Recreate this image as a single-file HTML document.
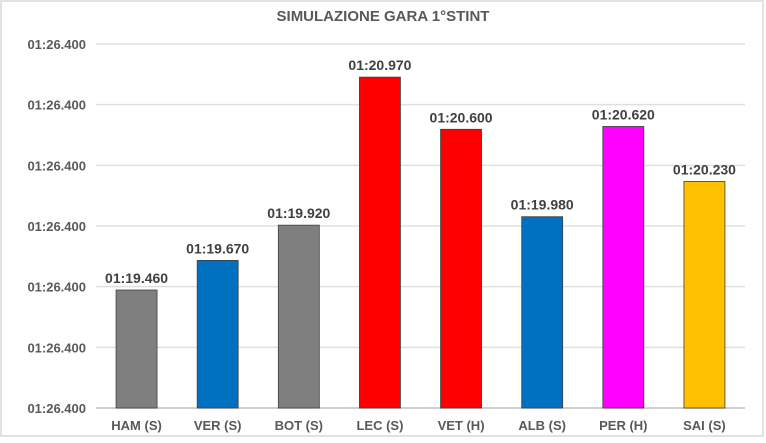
<!DOCTYPE html>
<html><head><meta charset="utf-8"><style>
body{margin:0;background:#fff;font-family:"Liberation Sans",sans-serif}
svg text{font-family:"Liberation Sans",sans-serif}
</style></head><body>
<svg id="chart" width="766" height="438" viewBox="0 0 766 438">
<rect x="1" y="1" width="762" height="435" fill="#fff" stroke="#d9d9d9" stroke-width="1.5"/>
<text x="383" y="21" text-anchor="middle" font-size="15" font-weight="bold" fill="#595959">SIMULAZIONE GARA 1°STINT</text>
<g id="grid"></g><g id="bars"></g>
</svg>
<script>
const categories=["HAM (S)","VER (S)","BOT (S)","LEC (S)","VET (H)","ALB (S)","PER (H)","SAI (S)"];
const values=[79.46,79.67,79.92,80.97,80.60,79.98,80.62,80.23];
const valueLabels=["01:19.460","01:19.670","01:19.920","01:20.970","01:20.600","01:19.980","01:20.620","01:20.230"];
const colors=["#7f7f7f","#0070c0","#7f7f7f","#ff0000","#ff0000","#0070c0","#ff00ff","#ffc000"];
const tickLabels=["01:26.400","01:26.400","01:26.400","01:26.400","01:26.400","01:26.400","01:26.400"];
const yMin=78.623,yMax=81.205;
const plotTop=44,plotBottom=408,plotLeft=96,plotRight=745;
const ns="http://www.w3.org/2000/svg";
function y(v){return plotBottom-(v-yMin)/(yMax-yMin)*(plotBottom-plotTop);}
const band=(plotRight-plotLeft)/categories.length;
function x(i){return plotLeft+band*i+band/2;}
const g=document.getElementById("grid"),b=document.getElementById("bars");
tickLabels.forEach((t,i)=>{
 const gy=plotBottom-i*(plotBottom-plotTop)/(tickLabels.length-1);
 const l=document.createElementNS(ns,"line");
 
 
 l.setAttribute("x1",plotLeft);l.setAttribute("x2",plotRight);l.setAttribute("y1",gy);l.setAttribute("y2",gy);
 l.setAttribute("stroke",i==0?"#bfbfbf":"#e0e0e0");l.setAttribute("stroke-width","1.5");g.appendChild(l);
 const tx=document.createElementNS(ns,"text");
 
 
 tx.setAttribute("x",86);tx.setAttribute("y",gy+5);tx.setAttribute("text-anchor","end");
 tx.setAttribute("font-size","13");tx.setAttribute("font-weight","bold");tx.setAttribute("fill","#595959");
 tx.textContent=t;g.appendChild(tx);
});
categories.forEach((c,i)=>{
 const cx=x(i),top=y(values[i]),w=41;
 const r=document.createElementNS(ns,"rect");
 
 
 r.setAttribute("x",cx-w/2);r.setAttribute("y",top);r.setAttribute("width",w);r.setAttribute("height",plotBottom-top);
 r.setAttribute("fill",colors[i]);r.setAttribute("stroke","#404040");r.setAttribute("stroke-width","0.8");b.appendChild(r);
 const vl=document.createElementNS(ns,"text");
 
 
 vl.setAttribute("x",cx);vl.setAttribute("y",top-7);vl.setAttribute("text-anchor","middle");
 vl.setAttribute("font-size","14");vl.setAttribute("font-weight","bold");vl.setAttribute("fill","#404040");
 vl.textContent=valueLabels[i];b.appendChild(vl);
 const cl=document.createElementNS(ns,"text");
 
 
 cl.setAttribute("x",cx);cl.setAttribute("y",430);cl.setAttribute("text-anchor","middle");
 cl.setAttribute("font-size","13");cl.setAttribute("font-weight","bold");cl.setAttribute("fill","#595959");
 cl.textContent=c;b.appendChild(cl);
});
</script>
</body></html>
